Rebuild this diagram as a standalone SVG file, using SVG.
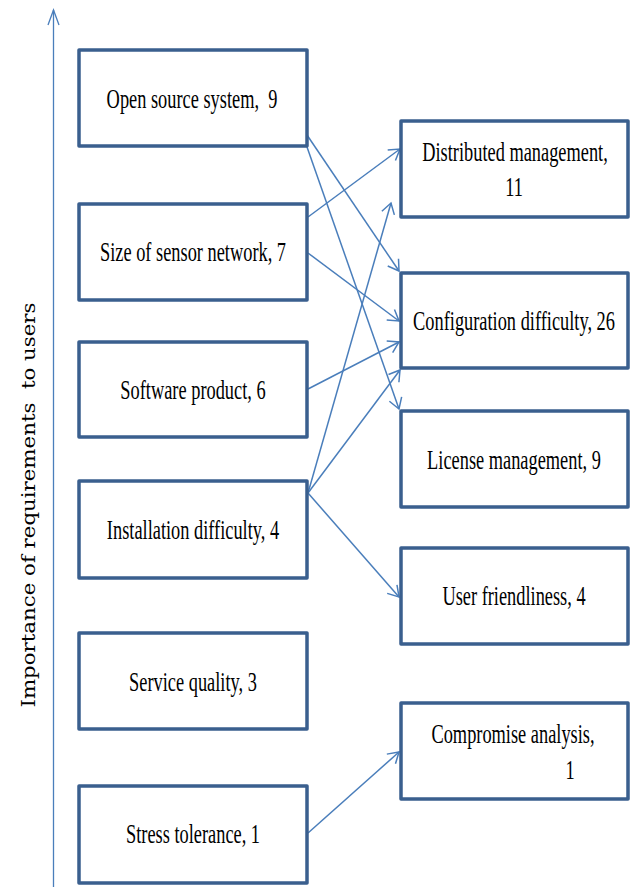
<svg xmlns="http://www.w3.org/2000/svg" width="636" height="887" viewBox="0 0 636 887">
  <style>
    .box { fill: #ffffff; stroke: #3A5F8E; stroke-width: 3.5; stroke-linejoin: round; }
    .lbl { font-family: "Liberation Serif", "Times New Roman", serif; font-size: 27px; fill: #000000; text-anchor: middle; }
    .conn { stroke: #4A7EBB; stroke-width: 1.5; fill: none; marker-end: url(#arrow); }
    .axis { stroke: #4A7EBB; stroke-width: 1.3; fill: none; marker-end: url(#axisArrow); }
    .axisLbl { font-family: "DejaVu Serif", "Liberation Serif", serif; font-size: 18px; fill: #000000; text-anchor: middle; }
  </style>
  <defs>
    <marker id="arrow" markerUnits="userSpaceOnUse" viewBox="-12 -8 14 16" refX="0" refY="0" markerWidth="14" markerHeight="16" orient="auto" overflow="visible">
      <path d="M-10.5,-6.5 L0,0 L-10.5,6.5" fill="none" stroke="#4A7EBB" stroke-width="1.5" stroke-linejoin="miter"/>
    </marker>
    <marker id="axisArrow" markerUnits="userSpaceOnUse" viewBox="-16 -7 18 14" refX="0" refY="0" markerWidth="18" markerHeight="14" orient="auto" overflow="visible">
      <path d="M-15,-5.5 L0,0 L-15,5.5" fill="none" stroke="#4A7EBB" stroke-width="1.3"/>
    </marker>
  </defs>

  <rect width="636" height="887" fill="#ffffff"/>

  <!-- vertical axis -->
  <g id="axis">
    <line class="axis" x1="53.5" y1="887" x2="53.5" y2="10"/>
    <text class="axisLbl" xml:space="preserve" transform="translate(35 505) rotate(-90)" textLength="405" lengthAdjust="spacingAndGlyphs">Importance of requirements  to users</text>
  </g>

  <!-- connectors -->
  <g id="connectors">
    <line class="conn" x1="307" y1="135" x2="399" y2="271"/>
    <line class="conn" x1="307" y1="147" x2="399" y2="409"/>
    <line class="conn" x1="308" y1="217" x2="400" y2="149"/>
    <line class="conn" x1="308" y1="253" x2="399" y2="321"/>
    <line class="conn" x1="308" y1="389" x2="399" y2="342"/>
    <line class="conn" x1="308" y1="493" x2="400" y2="370"/>
    <line class="conn" x1="308" y1="493" x2="391" y2="203"/>
    <line class="conn" x1="308" y1="493" x2="399" y2="597"/>
    <line class="conn" x1="308" y1="833" x2="399" y2="752"/>
  </g>

  <!-- requirement nodes (left column) -->
  <g id="open-source">
    <rect class="box" x="79" y="50" width="228" height="96"/>
    <text class="lbl" xml:space="preserve" transform="translate(192 108) scale(0.68 1)">Open source system,  9</text>
  </g>
  <g id="sensor-network">
    <rect class="box" x="79" y="204" width="228" height="96"/>
    <text class="lbl" transform="translate(193 261) scale(0.68 1)">Size of sensor network, 7</text>
  </g>
  <g id="software-product">
    <rect class="box" x="79" y="342" width="228" height="95"/>
    <text class="lbl" transform="translate(193 399) scale(0.68 1)">Software product, 6</text>
  </g>
  <g id="installation">
    <rect class="box" x="79" y="481" width="228" height="97"/>
    <text class="lbl" transform="translate(193 539) scale(0.68 1)">Installation difficulty, 4</text>
  </g>
  <g id="service-quality">
    <rect class="box" x="79" y="633" width="228" height="96"/>
    <text class="lbl" transform="translate(193 691) scale(0.68 1)">Service quality, 3</text>
  </g>
  <g id="stress-tolerance">
    <rect class="box" x="79" y="786" width="228" height="97"/>
    <text class="lbl" transform="translate(193 843) scale(0.68 1)">Stress tolerance, 1</text>
  </g>

  <!-- problem nodes (right column) -->
  <g id="distributed-management">
    <rect class="box" x="401" y="121" width="227" height="96"/>
    <text class="lbl" transform="translate(515 161) scale(0.68 1)">Distributed management,</text>
    <text class="lbl" transform="translate(514 196) scale(0.68 1)">11</text>
  </g>
  <g id="configuration">
    <rect class="box" x="401" y="273" width="227" height="95"/>
    <text class="lbl" transform="translate(514 330) scale(0.68 1)">Configuration difficulty, 26</text>
  </g>
  <g id="license">
    <rect class="box" x="401" y="411" width="227" height="96"/>
    <text class="lbl" transform="translate(514 469) scale(0.68 1)">License management, 9</text>
  </g>
  <g id="user-friendliness">
    <rect class="box" x="401" y="548" width="227" height="96"/>
    <text class="lbl" transform="translate(514 605) scale(0.68 1)">User friendliness, 4</text>
  </g>
  <g id="compromise">
    <rect class="box" x="401" y="703" width="227" height="96"/>
    <text class="lbl" transform="translate(513 743) scale(0.68 1)">Compromise analysis,</text>
    <text class="lbl" transform="translate(570 779) scale(0.68 1)">1</text>
  </g>
</svg>
